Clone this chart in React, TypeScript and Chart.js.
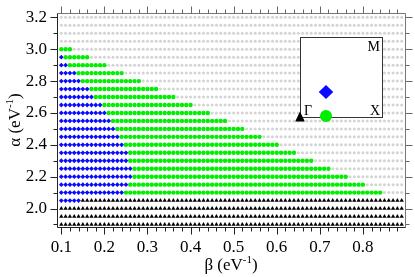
import React, { useEffect, useRef } from 'react';
import { Chart, registerables } from 'chart.js';

Chart.register(...registerables);

// alpha (eV^-1) rows, top to bottom
const alphaRows = [3.2, 3.15, 3.1, 3.05, 3.0, 2.95, 2.9, 2.85, 2.8, 2.75, 2.7, 2.65, 2.6, 2.55, 2.5, 2.45, 2.4, 2.35, 2.3, 2.25, 2.2, 2.15, 2.1, 2.05, 2.0, 1.95, 1.9];
// beta (eV^-1) columns
const betaCols = [
  0.10, 0.11, 0.12, 0.13, 0.14, 0.15, 0.16, 0.17, 0.18, 0.19,
  0.20, 0.21, 0.22, 0.23, 0.24, 0.25, 0.26, 0.27, 0.28, 0.29,
  0.30, 0.31, 0.32, 0.33, 0.34, 0.35, 0.36, 0.37, 0.38, 0.39,
  0.40, 0.41, 0.42, 0.43, 0.44, 0.45, 0.46, 0.47, 0.48, 0.49,
  0.50, 0.51, 0.52, 0.53, 0.54, 0.55, 0.56, 0.57, 0.58, 0.59,
  0.60, 0.61, 0.62, 0.63, 0.64, 0.65, 0.66, 0.67, 0.68, 0.69,
  0.70, 0.71, 0.72, 0.73, 0.74, 0.75, 0.76, 0.77, 0.78, 0.79,
  0.80, 0.81, 0.82, 0.83, 0.84, 0.85, 0.86, 0.87, 0.88, 0.89,
];
// per row: last beta of the blue (M-point) phase
const blueLast = [null, null, null, null, null, 0.10, 0.11, 0.13, 0.14, 0.16, 0.17, 0.19, 0.20, 0.21, 0.22, 0.23, 0.24, 0.25, 0.25, 0.26, 0.26, 0.25, 0.24, 0.14, null, null, null];
// per row: last beta of the green (X-point) phase
const greenLast = [null, null, null, null, 0.12, 0.16, 0.20, 0.24, 0.28, 0.32, 0.36, 0.40, 0.44, 0.48, 0.52, 0.56, 0.60, 0.64, 0.68, 0.72, 0.76, 0.80, 0.84, null, null, null, null];
// per row: first beta of the black (Gamma-point) phase
const triangleFirst = [null, null, null, null, null, null, null, null, null, null, null, null, null, null, null, null, null, null, null, null, null, null, null, 0.15, 0.10, 0.10, 0.10];

const xTickLabels = [0.1, 0.2, 0.3, 0.4, 0.5, 0.6, 0.7, 0.8];
const yTickLabels = [2.0, 2.2, 2.4, 2.6, 2.8, 3.0, 3.2];

const X_MIN = 0.09, X_MAX = 0.9, Y_MIN = 1.878, Y_MAX = 3.226;
const SERIF = '"Liberation Serif", "Times New Roman", serif';

function buildPoints() {
  const gray: any[] = [], blue: any[] = [], green: any[] = [], tri: any[] = [];
  alphaRows.forEach((a, i) => {
    betaCols.forEach((b) => {
      const p = { x: b, y: a };
      const t = triangleFirst[i], bl = blueLast[i], g = greenLast[i];
      if (t !== null && b >= (t as number) - 1e-6) tri.push(p);
      else if (bl !== null && b <= (bl as number) + 1e-6) blue.push(p);
      else if (g !== null && b <= (g as number) + 1e-6) green.push(p);
      else gray.push(p);
    });
  });
  return { gray, blue, green, tri };
}

const decor = {
  id: 'decor',
  afterDatasetsDraw(chart: any) {
    const { ctx, scales: { x, y } } = chart;
    const L = Math.round(x.getPixelForValue(0.653));
    const R = Math.round(x.getPixelForValue(0.844));
    const T = Math.round(y.getPixelForValue(3.075));
    const B = Math.round(y.getPixelForValue(2.572));
    ctx.save();
    ctx.fillStyle = '#ffffff';
    ctx.fillRect(L, T, R - L, B - T);
    ctx.strokeStyle = '#333';
    ctx.lineWidth = 1;
    ctx.strokeRect(L + 0.5, T + 0.5, R - L, B - T);
    ctx.fillStyle = '#000';
    ctx.font = '14px ' + SERIF;
    ctx.textBaseline = 'alphabetic';
    ctx.textAlign = 'right';
    ctx.fillText('M', R - 2, T + 14);
    ctx.fillText('X', R - 2, B - 2);
    ctx.textAlign = 'left';
    ctx.fillText('Γ', L + 4, B - 2);
    // Gamma marker
    ctx.beginPath();
    ctx.moveTo(L, B - 5.5);
    ctx.lineTo(L + 4.8, B + 4.5);
    ctx.lineTo(L - 4.8, B + 4.5);
    ctx.closePath();
    ctx.fill();
    // X marker
    const cx = L + 26;
    ctx.fillStyle = '#00ee00';
    ctx.beginPath();
    ctx.arc(cx, B - 1, 6, 0, Math.PI * 2);
    ctx.fill();
    // M marker
    const cy = B - 25;
    ctx.fillStyle = '#0a0aff';
    ctx.beginPath();
    ctx.moveTo(cx, cy - 7);
    ctx.lineTo(cx + 7.3, cy);
    ctx.lineTo(cx, cy + 7);
    ctx.lineTo(cx - 7.3, cy);
    ctx.closePath();
    ctx.fill();
    ctx.restore();
  },
  afterDraw(chart: any) {
    const { ctx, chartArea, scales: { x, y } } = chart;
    const left = Math.round(chartArea.left) + 0.5;
    const right = Math.round(chartArea.right) - 0.5;
    const top = Math.round(chartArea.top) + 0.5;
    const bottom = Math.round(chartArea.bottom) - 0.5;
    ctx.save();
    ctx.lineWidth = 1;
    // frame
    ctx.strokeStyle = '#777';
    ctx.beginPath();
    ctx.moveTo(left, top); ctx.lineTo(right, top); ctx.lineTo(right, bottom);
    ctx.stroke();
    ctx.strokeStyle = '#222';
    ctx.beginPath();
    ctx.moveTo(left, top); ctx.lineTo(left, bottom); ctx.lineTo(right, bottom);
    ctx.stroke();
    // x ticks every 0.02, major every 0.1
    for (let k = 5; k <= 44; k++) {
      const v = k * 0.02;
      if (v < X_MIN || v > X_MAX - 0.005) continue;
      const major = k % 5 === 0;
      const len = major ? 7 : 4;
      const px = Math.round(x.getPixelForValue(v)) + 0.5;
      ctx.strokeStyle = '#222';
      ctx.beginPath(); ctx.moveTo(px, bottom); ctx.lineTo(px, bottom + len); ctx.stroke();
      ctx.strokeStyle = '#666';
      ctx.beginPath(); ctx.moveTo(px, top); ctx.lineTo(px, top - len); ctx.stroke();
    }
    // y ticks every 0.1, major every 0.2
    for (let k = 19; k <= 32; k++) {
      const v = k * 0.1;
      if (v < Y_MIN || v > Y_MAX) continue;
      const major = k % 2 === 0;
      const len = major ? 7 : 4;
      const py = Math.round(y.getPixelForValue(v)) + 0.5;
      ctx.strokeStyle = '#222';
      ctx.beginPath(); ctx.moveTo(left, py); ctx.lineTo(left - len, py); ctx.stroke();
      ctx.strokeStyle = '#666';
      ctx.beginPath(); ctx.moveTo(right, py); ctx.lineTo(right + len, py); ctx.stroke();
    }
    // axis titles
    ctx.fillStyle = '#000';
    ctx.textBaseline = 'alphabetic';
    ctx.textAlign = 'left';
    const big = '17px ' + SERIF, small = '11px ' + SERIF;
    const drawTitle = (greek: string, cxp: number, base: number) => {
      const parts: [string, string, number][] = [[greek + ' (eV', big, 0], ['-1', small, -7], [')', big, 0]];
      let w = 0;
      parts.forEach(([t, f]) => { ctx.font = f; w += ctx.measureText(t).width; });
      let xx = cxp - w / 2;
      parts.forEach(([t, f, dy]) => { ctx.font = f; ctx.fillText(t, xx, base + dy); xx += ctx.measureText(t).width; });
    };
    drawTitle('β', 231, 270);
    ctx.save();
    ctx.translate(20, 120);
    ctx.rotate(-Math.PI / 2);
    drawTitle('α', 0, 0);
    ctx.restore();
    ctx.restore();
  },
};

export default function App() {
  const ref = useRef<HTMLCanvasElement | null>(null);
  useEffect(() => {
    if (!ref.current) return;
    const { gray, blue, green, tri } = buildPoints();
    const chart = new Chart(ref.current, {
      type: 'scatter',
      data: {
        datasets: [
          { label: 'other', data: gray, pointStyle: 'circle', pointRadius: 1.5, pointBorderWidth: 0, backgroundColor: '#d4d4d4' },
          { label: 'X', data: green, pointStyle: 'circle', pointRadius: 2.2, pointBorderWidth: 0, backgroundColor: '#00ee00' },
          { label: 'M', data: blue, pointStyle: 'rectRot', pointRadius: 2.4, pointBorderWidth: 0, backgroundColor: '#0a0aff' },
          { label: 'Γ', data: tri, pointStyle: 'triangle', pointRadius: 2.5, pointBorderWidth: 0, backgroundColor: '#000000' },
        ],
      },
      options: {
        animation: false,
        responsive: false,
        devicePixelRatio: 1,
        events: [],
        layout: { padding: { left: 0, right: 9, top: 9, bottom: 0 } },
        plugins: { legend: { display: false }, tooltip: { enabled: false } },
        scales: {
          x: {
            type: 'linear',
            min: X_MIN,
            max: X_MAX,
            afterBuildTicks: (s: any) => { s.ticks = xTickLabels.map((v) => ({ value: v })); },
            afterFit: (s: any) => { s.height = 49; },
            grid: { display: true, drawOnChartArea: false, drawTicks: true, tickLength: 7, tickColor: 'rgba(0,0,0,0)' },
            border: { display: false },
            ticks: { color: '#000', padding: 2, maxRotation: 0, autoSkip: false, font: { family: SERIF, size: 17 }, callback: (v: any) => Number(v).toFixed(1) },
          },
          y: {
            type: 'linear',
            min: Y_MIN,
            max: Y_MAX,
            afterBuildTicks: (s: any) => { s.ticks = yTickLabels.map((v) => ({ value: v })); },
            afterFit: (s: any) => { s.width = 57; },
            grid: { display: true, drawOnChartArea: false, drawTicks: true, tickLength: 7, tickColor: 'rgba(0,0,0,0)' },
            border: { display: false },
            ticks: { color: '#000', padding: 3, autoSkip: false, font: { family: SERIF, size: 17 }, callback: (v: any) => Number(v).toFixed(1) },
          },
        },
      },
      plugins: [decor],
    });
    return () => chart.destroy();
  }, []);
  return (
    <div style={{ position: 'fixed', left: 0, top: 0, width: 415, height: 277, background: '#fff' }}>
      <canvas ref={ref} width={415} height={277} />
    </div>
  );
}
